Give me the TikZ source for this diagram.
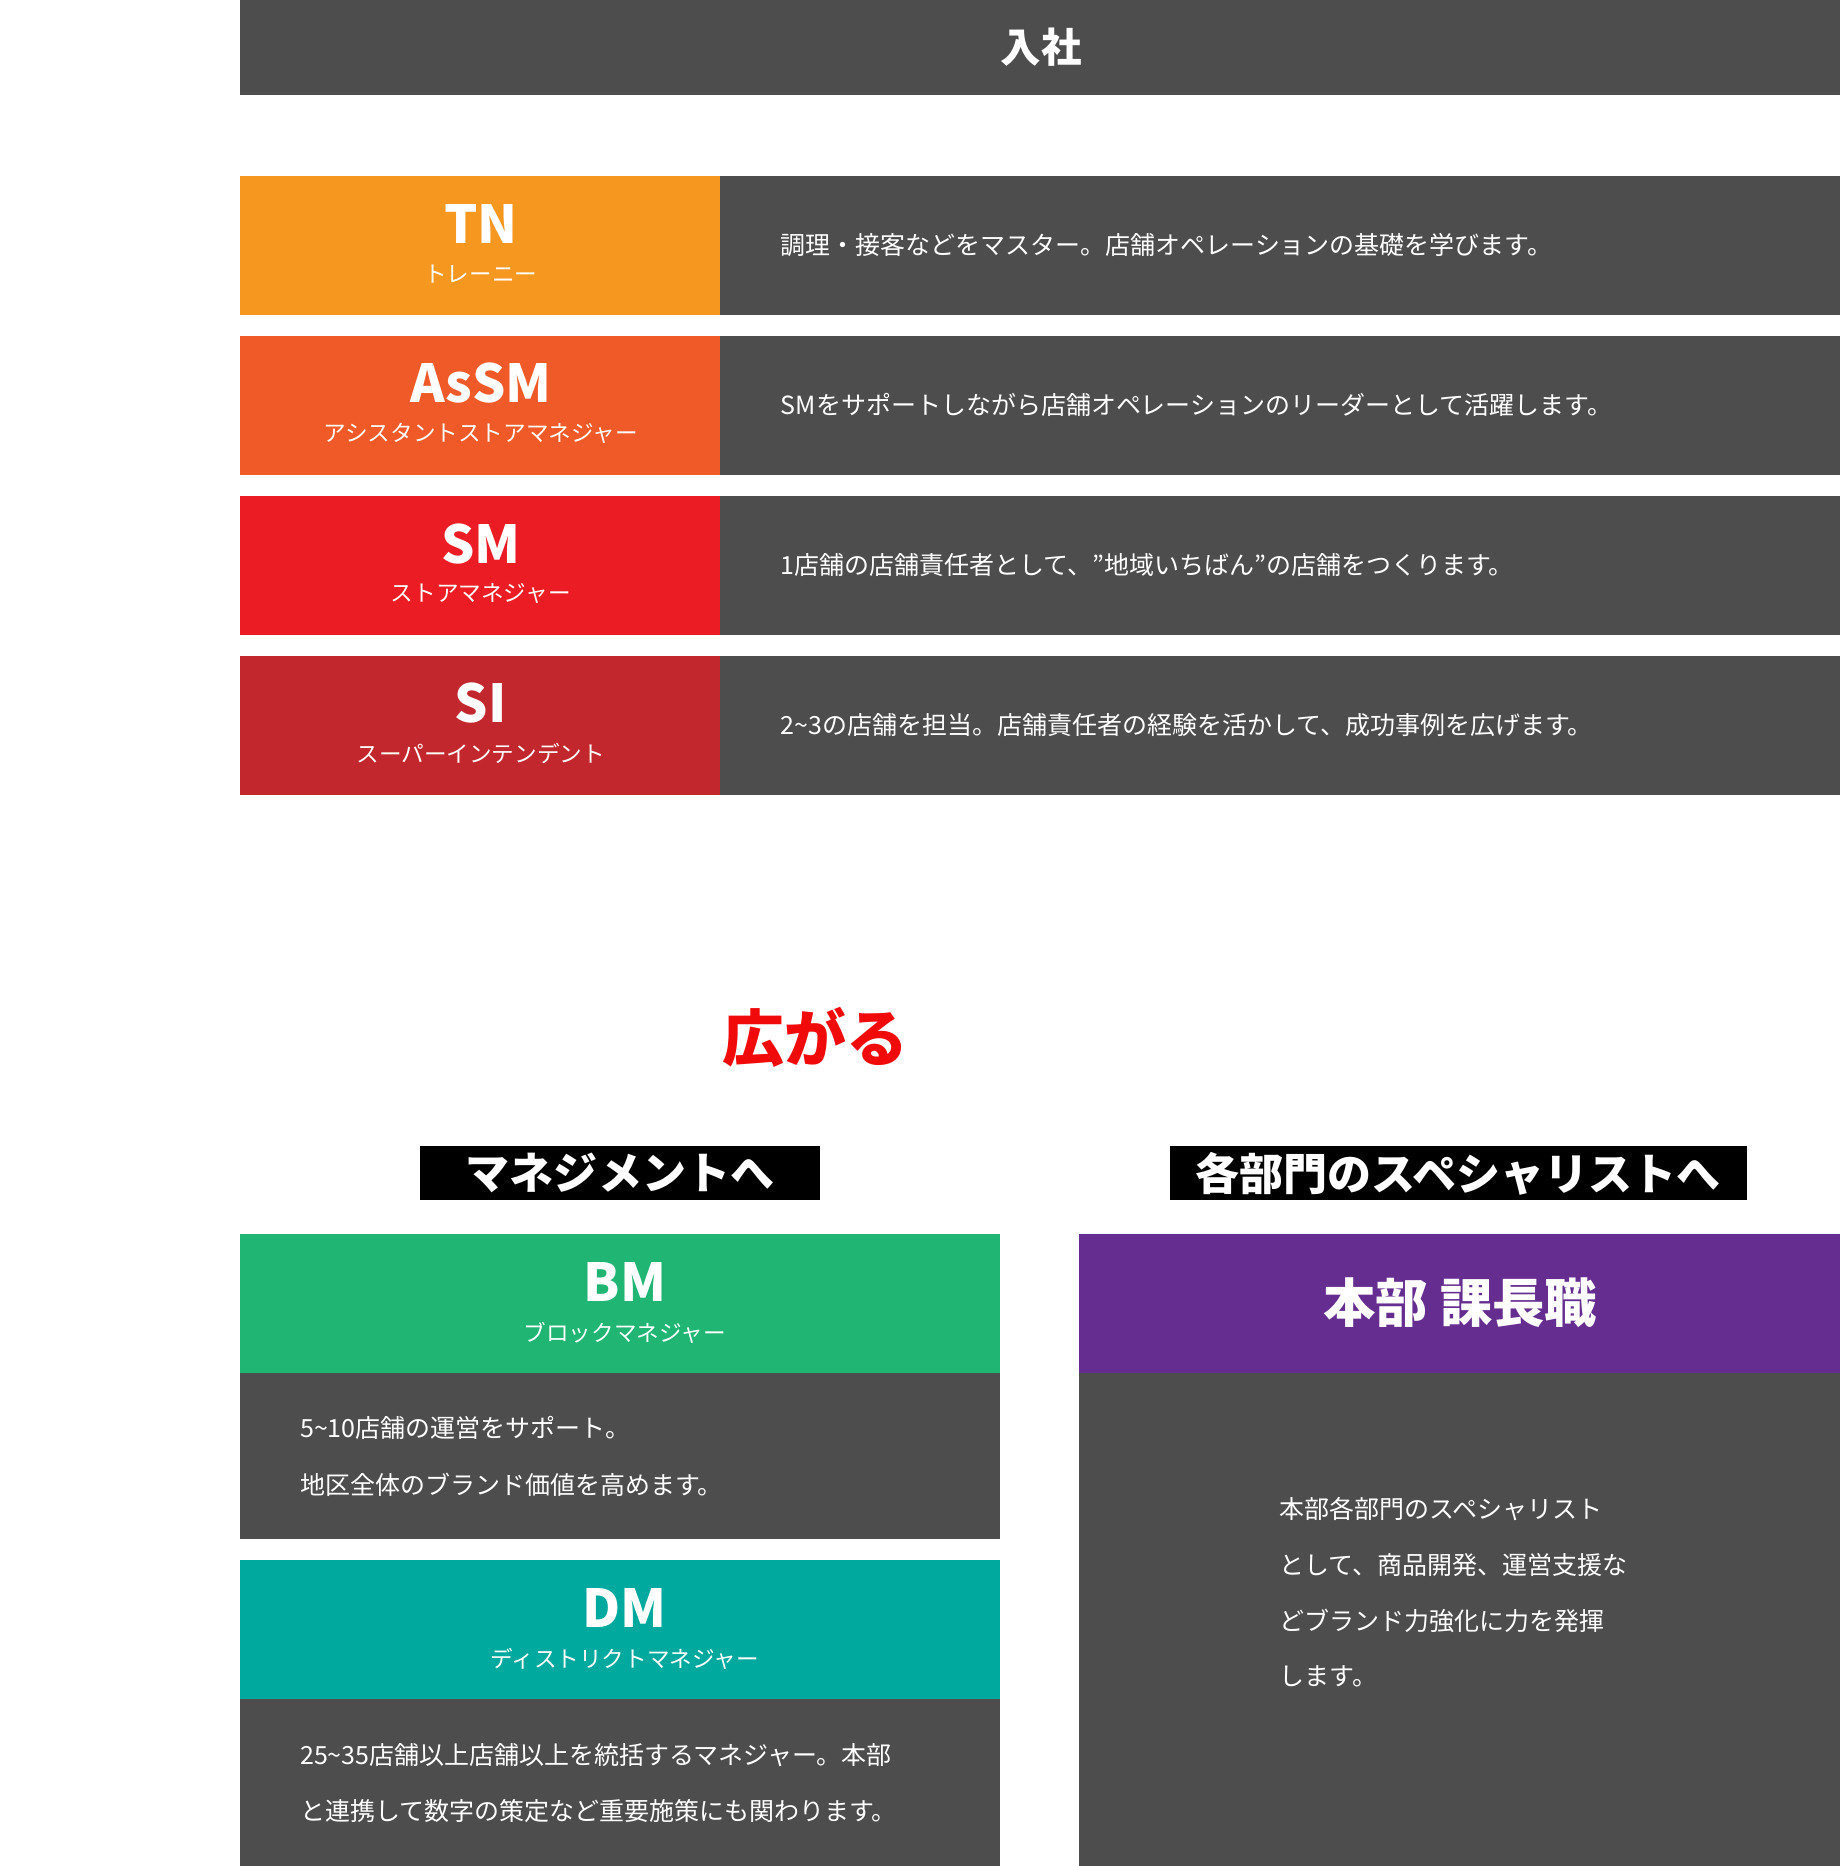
\documentclass[tikz,border=0pt]{standalone}
\usepackage{fontspec}
\setmainfont{Noto Sans CJK JP}
\newfontfamily\jpb{Noto Sans CJK JP Bold}
\begin{document}
\begin{tikzpicture}[x=1pt,y=-1pt,
  gray/.style={fill=barg,draw=none},
  ttl/.style={text=white,font=\fontsize{44}{48}\selectfont\bfseries,inner sep=0},
  sub/.style={text=white,font=\fontsize{19}{22}\selectfont,inner sep=0},
  desc/.style={text=white,font=\fontsize{21}{24}\selectfont,anchor=west,inner sep=0},
  lab/.style={text=white,font=\fontsize{37}{40}\selectfont\bfseries,inner sep=0}]
\definecolor{barg}{HTML}{4D4D4D}
\definecolor{ctn}{HTML}{F6971F}
\definecolor{cassm}{HTML}{F05A28}
\definecolor{csm}{HTML}{EC1C24}
\definecolor{csi}{HTML}{C1272D}
\definecolor{cbm}{HTML}{21B573}
\definecolor{cdm}{HTML}{00A99D}
\definecolor{cpur}{HTML}{662D91}
\useasboundingbox[fill=white] (0,0) rectangle (1546,1568);
\fill[gray] (202,0) rectangle (1546,80);
\node[lab,font=\fontsize{34}{38}\selectfont\bfseries] (join) at (875,40) {入社};
% rows
\foreach \y/\c/\t/\s/\d [count=\i] in {
 148/ctn/TN/トレーニー/調理・接客などをマスター。店舗オペレーションの基礎を学びます。,
 282/cassm/AsSM/アシスタントストアマネジャー/SMをサポートしながら店舗オペレーションのリーダーとして活躍します。,
 417/csm/SM/ストアマネジャー/1店舗の店舗責任者として、”地域いちばん”の店舗をつくります。,
 551/csi/SI/スーパーインテンデント/2\textasciitilde3の店舗を担当。店舗責任者の経験を活かして、成功事例を広げます。}{
 \fill[\c] (202,\y) rectangle (605,\y+117);
 \fill[gray] (605,\y) rectangle (1546,\y+117);
 \node[ttl] (t\i) at (404,\y+40) {\t};
 \node[sub] (s\i) at (404,\y+82) {\s};
 \node[desc] (d\i) at (656,\y+58) {\d};
}
\node[text={rgb,255:red,240;green,10;blue,10},font=\fontsize{52}{56}\selectfont\bfseries,inner sep=0] (hiro) at (685,872) {広がる};
\fill[black] (353,963) rectangle (689,1008);
\node[lab] (mg) at (521,986) {マネジメントへ};
\fill[black] (983,963) rectangle (1468,1008);
\node[lab] (sp) at (1225,986) {各部門のスペシャリストへ};
% BM
\fill[cbm] (202,1037) rectangle (840,1154);
\fill[gray] (202,1154) rectangle (840,1293);
\node[ttl] (bm) at (525,1077) {BM};
\node[sub] (bms) at (525,1120) {ブロックマネジャー};
\node[desc] (bm1) at (252,1200) {5\textasciitilde10店舗の運営をサポート。};
\node[desc] (bm2) at (252,1248) {地区全体のブランド価値を高めます。};
% DM
\fill[cdm] (202,1311) rectangle (840,1428);
\fill[gray] (202,1428) rectangle (840,1568);
\node[ttl] (dm) at (525,1351) {DM};
\node[sub] (dms) at (525,1394) {ディストリクトマネジャー};
\node[desc] (dm1) at (252,1475) {25\textasciitilde35店舗以上店舗以上を統括するマネジャー。本部};
\node[desc] (dm2) at (252,1522) {と連携して数字の策定など重要施策にも関わります。};
% purple
\fill[cpur] (907,1037) rectangle (1546,1154);
\fill[gray] (907,1154) rectangle (1546,1568);
\node[ttl] (hq) at (1227,1095) {本部 課長職};
\foreach \yy/\tx [count=\j] in {1268/本部各部門のスペシャリスト,1315/として、商品開発、運営支援な,1362/どブランド力強化に力を発揮,1409/します。}
 \node[desc] (hq\j) at (1075,\yy) {\tx};
\end{tikzpicture}
\end{document}
